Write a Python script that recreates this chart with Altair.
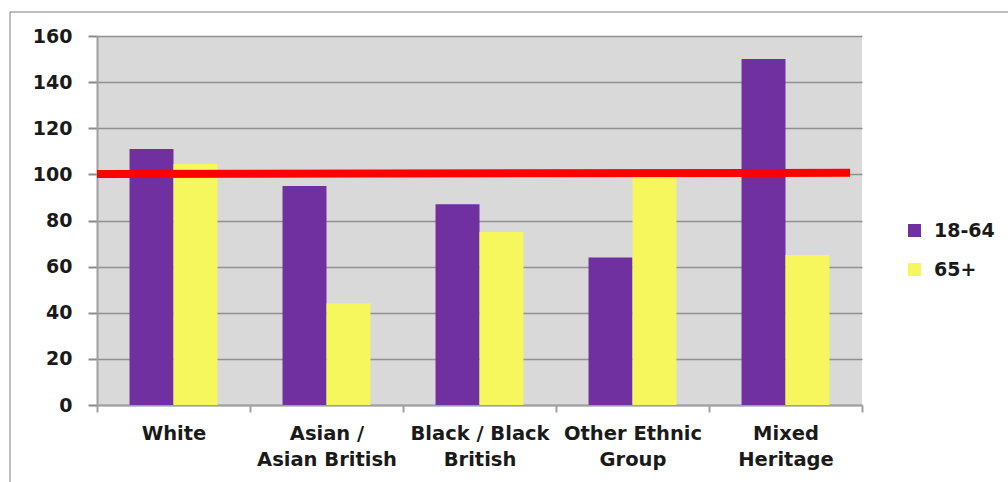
import altair as alt
import pandas as pd

categories = ["White", "Asian / Asian British", "Black / Black British", "Other Ethnic Group", "Mixed Heritage"]
category_labels = ["White", "Asian /\nAsian British", "Black / Black\nBritish", "Other Ethnic\nGroup", "Mixed\nHeritage"]
groups = ["18-64", "65+"]
values_18_64 = [111, 95, 87, 64, 150]
values_65_plus = [104.5, 44, 75, 99, 65]
benchmark_start = 100.2
benchmark_end = 100.7
y_ticks = [0, 20, 40, 60, 80, 100, 120, 140, 160]

rows = []
for cat, lab, a, b in zip(categories, category_labels, values_18_64, values_65_plus):
    rows.append({"category": lab, "group": groups[0], "value": a})
    rows.append({"category": lab, "group": groups[1], "value": b})
df = pd.DataFrame(rows)

FONT = "DejaVu Sans"
W, H = 765, 369

bars = alt.Chart(df).mark_bar(strokeWidth=0).encode(
    x=alt.X("category:N", sort=category_labels, title=None,
            scale=alt.Scale(paddingInner=0, paddingOuter=0),
            axis=alt.Axis(labelAngle=0, tickBand="extent", labelExpr="split(datum.label, '\\n')",
                          labelFont=FONT, labelFontSize=19.5, labelFontWeight="bold", labelColor="#1a1a1a",
                          labelLineHeight=26, labelPadding=12, labelBaseline="top",
                          domainColor="#A0A0A0", domainWidth=2, tickColor="#A0A0A0", tickWidth=2,
                          tickSize=7, grid=False)),
    xOffset=alt.XOffset("group:N", sort=groups, scale=alt.Scale(paddingInner=0, paddingOuter=0.74)),
    y=alt.Y("value:Q", title=None,
            scale=alt.Scale(domain=[0, 160], nice=False),
            axis=alt.Axis(values=y_ticks, labelFont=FONT, labelFontSize=19, labelFontWeight="bold",
                          labelColor="#1a1a1a", labelPadding=16, tickSize=9, tickColor="#8C8C8C",
                          tickWidth=2, domainColor="#A0A0A0", domainWidth=2,
                          gridColor="#919191", gridWidth=1.5)),
    color=alt.Color("group:N", sort=groups,
                    scale=alt.Scale(domain=groups, range=["#7030A0", "#F5F75C"]),
                    legend=alt.Legend(title=None, orient="none", legendX=808, legendY=185,
                                      symbolType="square", symbolSize=169, symbolStrokeWidth=0,
                                      labelFont=FONT, labelFontSize=19, labelFontWeight="bold",
                                      labelColor="#1a1a1a",
                                      labelOffset=10, rowPadding=19)),
)

bench = pd.DataFrame({"start": [benchmark_start], "end": [benchmark_end]})
rule = alt.Chart(bench).mark_rule(color="#FF0000", strokeWidth=8, strokeCap="butt").encode(
    y=alt.Y("start:Q"), y2="end:Q",
    x=alt.value(0), x2=alt.value(753),
)

frame = alt.Chart(pd.DataFrame({"f": [0]})).mark_rect(
    filled=False, stroke="#7F7F7F", strokeWidth=1, clip=False
).encode(
    x=alt.value(-87), x2=alt.value(1100), y=alt.value(-24), y2=alt.value(700)
)

chart = alt.layer(frame, bars, rule).properties(
    width=W, height=H,
    autosize=alt.AutoSizeParams(type="none"),
    padding={"left": 97, "top": 36, "right": 146, "bottom": 77},
    background="white",
).configure_view(fill="#D9D9D9", strokeWidth=0)

chart.save("out.html", embed_options={"renderer": "svg", "actions": False})
